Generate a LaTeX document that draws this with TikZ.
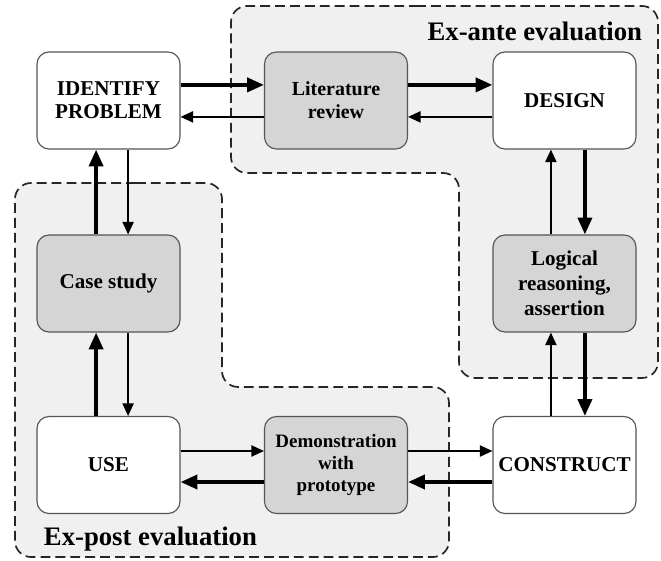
\documentclass[tikz,border=0pt]{standalone}
\usepackage{fontspec}
\setmainfont{Liberation Serif}
\usetikzlibrary{arrows.meta}
\definecolor{regiongray}{HTML}{F0F0F0}
\definecolor{boxgray}{HTML}{D5D5D5}
\definecolor{edgegray}{HTML}{555555}

\begin{document}
\begin{tikzpicture}[
  box/.style={draw=edgegray,line width=0.8pt,rounded corners=0.3cm,fill=white,
    minimum width=3.575cm,minimum height=2.425cm,inner sep=0pt,align=center,
    font=\bfseries\fontsize{15}{16.5}\selectfont},
  graybox/.style={box,fill=boxgray},
  region/.style={draw=black!85,fill=regiongray,line width=1.2pt,
    dash pattern=on 7pt off 3.6pt,rounded corners=0.4cm},
  fwd/.style={line width=2.6pt,-{Triangle[length=12pt,width=10pt]}},
  bwd/.style={line width=1.2pt,-{Triangle[length=9pt,width=8pt]}},
  lbl/.style={font=\bfseries\fontsize{19}{21}\selectfont}
]
\useasboundingbox (0,0) rectangle (16.525,14);
% evaluation regions
\draw[region] (10,13.85) -- (16.45,13.85) -- (16.45,4.55) -- (11.475,4.55)
  -- (11.475,9.675) -- (5.775,9.675) -- (5.775,13.85) -- cycle;
\draw[region] (3,9.425) -- (5.55,9.425) -- (5.55,4.325) -- (11.225,4.325)
  -- (11.225,0.075) -- (0.375,0.075) -- (0.375,9.425) -- cycle;
\node[lbl,anchor=base east] (exante) at (16.175,12.975) {Ex-ante evaluation};
\node[lbl,anchor=base west] (expost) at (0.975,0.375) {Ex-post evaluation};
% activities
\node[box] (idp) at (2.7125,11.4875) {IDENTIFY\\PROBLEM};
\node[graybox,font=\bfseries\fontsize{14.2}{16.4}\selectfont] (lit) at (8.4,11.4875) {Literature\\review};
\node[box] (des) at (14.1125,11.4875) {DESIGN};
\node[graybox] (cas) at (2.7125,6.9125) {Case study};
\node[graybox,font=\bfseries\fontsize{15}{17.8}\selectfont] (lgr) at (14.1125,6.9125) {Logical\\reasoning,\\assertion};
\node[box] (use) at (2.7125,2.375) {USE};
\node[graybox,font=\bfseries\fontsize{13.5}{15.6}\selectfont] (dem) at (8.4,2.375) {Demonstration\\with\\prototype};
\node[box] (con) at (14.1125,2.375) {CONSTRUCT};
% top row
\draw[fwd] ([yshift=0.39cm]idp.east) -- ([yshift=0.39cm]lit.west);
\draw[bwd] ([yshift=-0.41cm]lit.west) -- ([yshift=-0.41cm]idp.east);
\draw[fwd] ([yshift=0.39cm]lit.east) -- ([yshift=0.39cm]des.west);
\draw[bwd] ([yshift=-0.41cm]des.west) -- ([yshift=-0.41cm]lit.east);
% right column
\draw[fwd] ([xshift=0.51cm]des.south) -- ([xshift=0.51cm]lgr.north);
\draw[bwd] ([xshift=-0.34cm]lgr.north) -- ([xshift=-0.34cm]des.south);
\draw[fwd] ([xshift=0.51cm]lgr.south) -- ([xshift=0.51cm]con.north);
\draw[bwd] ([xshift=-0.34cm]con.north) -- ([xshift=-0.34cm]lgr.south);
% bottom row
\draw[fwd] ([yshift=-0.425cm]con.west) -- ([yshift=-0.425cm]dem.east);
\draw[bwd] ([yshift=0.35cm]dem.east) -- ([yshift=0.35cm]con.west);
\draw[fwd] ([yshift=-0.425cm]dem.west) -- ([yshift=-0.425cm]use.east);
\draw[bwd] ([yshift=0.35cm]use.east) -- ([yshift=0.35cm]dem.west);
% left column
\draw[fwd] ([xshift=-0.31cm]use.north) -- ([xshift=-0.31cm]cas.south);
\draw[bwd] ([xshift=0.49cm]cas.south) -- ([xshift=0.49cm]use.north);
\draw[fwd] ([xshift=-0.31cm]cas.north) -- ([xshift=-0.31cm]idp.south);
\draw[bwd] ([xshift=0.49cm]idp.south) -- ([xshift=0.49cm]cas.north);
\end{tikzpicture}
\end{document}
